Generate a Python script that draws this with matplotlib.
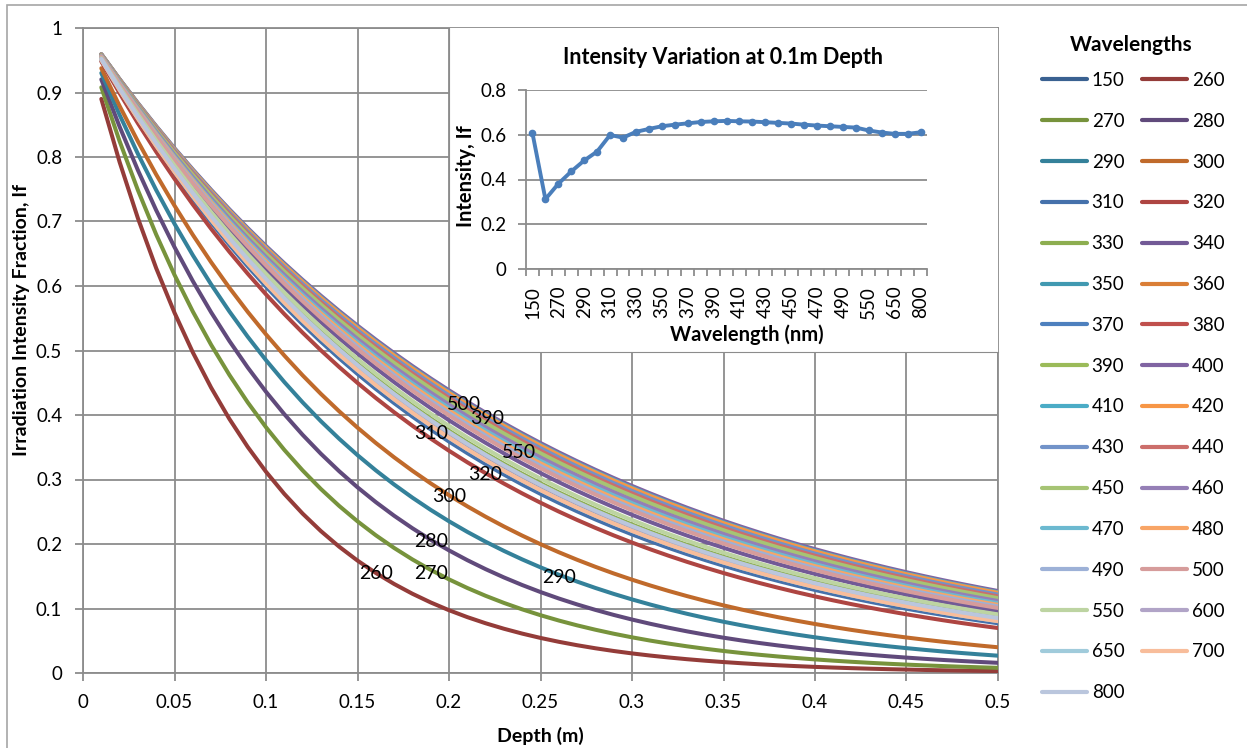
import numpy as np
import matplotlib.pyplot as plt
from matplotlib.lines import Line2D
from matplotlib.patches import Rectangle

plt.rcParams['font.family'] = ['Lato', 'DejaVu Sans']

# wavelength series (nm)
wavelengths = [150, 260, 270, 280, 290, 300, 310, 320, 330, 340, 350, 360,
               370, 380, 390, 400, 410, 420, 430, 440, 450, 460, 470, 480,
               490, 500, 550, 600, 650, 700, 800]

# fraction of irradiation left at 0.1 m depth for each wavelength
intensity_01m = [0.607, 0.312, 0.381, 0.436, 0.485, 0.525, 0.599, 0.587,
                 0.613, 0.626, 0.638, 0.645, 0.651, 0.657, 0.660, 0.662,
                 0.660, 0.659, 0.656, 0.653, 0.650, 0.645, 0.641, 0.638,
                 0.635, 0.632, 0.619, 0.610, 0.604, 0.604, 0.611]

series_colors = ['#3A6191', '#943C39', '#77933C', '#604A7B', '#34819A', '#C06A2B',
                 '#4571AB', '#AE4542', '#8DAE50', '#725A96', '#4199B1', '#DA7E36',
                 '#4E80BE', '#C0504D', '#9BBB59', '#8064A2', '#4BACC6', '#F79646',
                 '#7293C9', '#CC6E6B', '#A6C474', '#957FB6', '#6CB9D0', '#F8A566',
                 '#9DB1D7', '#D69C9B', '#BDD4A2', '#B1A4C7', '#A0CBDB', '#F8BD9B',
                 '#BAC6DD']

# depth points, 1 cm apart
depth = np.arange(1, 51) / 100.0

# series labels written on the curves: (text, depth, If)
curve_labels = [('500', 0.208, 0.416), ('390', 0.221, 0.395), ('310', 0.190, 0.371),
                ('550', 0.238, 0.342), ('320', 0.220, 0.307), ('300', 0.200, 0.273),
                ('280', 0.190, 0.204), ('260', 0.160, 0.155), ('270', 0.190, 0.155),
                ('290', 0.260, 0.148)]

W, H = 1247, 748
grid_gray = '#8C8C8C'

fig = plt.figure(figsize=(W / 100, H / 100), dpi=100)

# outer chart border
fig.patches.append(Rectangle((7 / W, -0.02), 1.1, 1 - 5 / H + 0.02, transform=fig.transFigure,
                             fill=False, edgecolor='#A6A6A6', lw=1.2))

ax = fig.add_axes([83 / W, 1 - 673 / H, 915 / W, 645 / H])
for wl, i01, col in zip(wavelengths, intensity_01m, series_colors):
    # Beer-Lambert decay through the water column
    ax.plot(depth, i01 ** (depth / 0.1), color=col, lw=2.9, solid_capstyle='round', zorder=3)

for txt, x, y in curve_labels:
    ax.text(x, y, txt, ha='center', va='center', fontsize=14, zorder=5)

ax.set_xlim(0, 0.5)
ax.set_ylim(0, 1)
ax.set_xticks(np.arange(0, 0.501, 0.05))
ax.set_yticks(np.arange(0, 1.001, 0.1))
ax.set_xticklabels(['%g' % round(v, 2) for v in np.arange(0, 0.501, 0.05)])
ax.set_yticklabels(['%g' % round(v, 1) for v in np.arange(0, 1.001, 0.1)])
ax.grid(True, color=grid_gray, lw=1.3)
ax.set_axisbelow(True)
for s in ax.spines.values():
    s.set_color(grid_gray)
    s.set_linewidth(1.3)
ax.tick_params(direction='out', length=6, width=1.3, color=grid_gray, labelsize=13.5, pad=9)

fig.text(22 / W, 1 - 320 / H, 'Irradiation Intensity Fraction, If', rotation=90,
         ha='center', va='center', fontsize=14, fontweight='bold')
fig.text(540 / W, 1 - 736 / H, 'Depth (m)', ha='center', va='center',
         fontsize=14, fontweight='bold')

# white panel behind the small chart
bg = fig.add_axes([449 / W, 1 - 352 / H, (998 - 449) / W, (352 - 28) / H])
bg.set_facecolor('white')
bg.set_xticks([])
bg.set_yticks([])
bg.spines['top'].set_visible(False)
bg.spines['right'].set_visible(False)
bg.spines['left'].set_color(grid_gray)
bg.spines['bottom'].set_color(grid_gray)

ax_in = fig.add_axes([526 / W, 1 - 269 / H, 401 / W, 179 / H])
pos = np.arange(len(wavelengths))
ax_in.plot(pos, intensity_01m, color='#4A7EBB', lw=2.8, marker='o', ms=4.5, zorder=3)
ax_in.set_xlim(-0.5, len(wavelengths) - 0.5)
ax_in.set_ylim(0, 0.8)
ax_in.set_yticks([0, 0.2, 0.4, 0.6, 0.8])
ax_in.set_yticklabels(['0', '0.2', '0.4', '0.6', '0.8'])
ax_in.set_xticks(pos[::2])
ax_in.set_xticklabels([str(w) for w in wavelengths[::2]], rotation=90)
ax_in.set_xticks(np.arange(-0.5, len(wavelengths)), minor=True)
ax_in.yaxis.grid(True, color=grid_gray, lw=1.3)
ax_in.set_axisbelow(True)
ax_in.spines['top'].set_visible(False)
ax_in.spines['right'].set_visible(False)
for s in ('left', 'bottom'):
    ax_in.spines[s].set_color(grid_gray)
    ax_in.spines[s].set_linewidth(1.3)
ax_in.tick_params(axis='y', direction='out', length=6, width=1.3, color=grid_gray, labelsize=13.5, pad=8)
ax_in.tick_params(axis='x', which='major', length=0, labelsize=13.5, pad=12)
ax_in.tick_params(axis='x', which='minor', direction='out', length=5, width=1.3, color=grid_gray)

fig.text(723 / W, 1 - 58 / H, 'Intensity Variation at 0.1m Depth', ha='center', va='center',
         fontsize=15.5, fontweight='bold')
fig.text(466 / W, 1 - 176 / H, 'Intensity, If', rotation=90, ha='center', va='center',
         fontsize=14.5, fontweight='bold')
fig.text(747 / W, 1 - 335 / H, 'Wavelength (nm)', ha='center', va='center',
         fontsize=14.5, fontweight='bold')

# legend, filled row by row like the two-column layout
fig.text(1131 / W, 1 - 45 / H, 'Wavelengths', ha='center', va='center',
         fontsize=15, fontweight='bold')
handles = [Line2D([], [], color=c, lw=3, solid_capstyle='round') for c in series_colors]
labels = [str(w) for w in wavelengths]
order = list(range(0, len(labels), 2)) + list(range(1, len(labels), 2))
fig.legend([handles[i] for i in order], [labels[i] for i in order], ncol=2,
           loc='upper left', bbox_to_anchor=(1042 / W, 1 - 72 / H), frameon=False,
           fontsize=13.5, handlelength=2.4, handletextpad=0.25, columnspacing=0.95,
           labelspacing=1.27, borderpad=0, borderaxespad=0)

fig.savefig('out.png', dpi=100)
